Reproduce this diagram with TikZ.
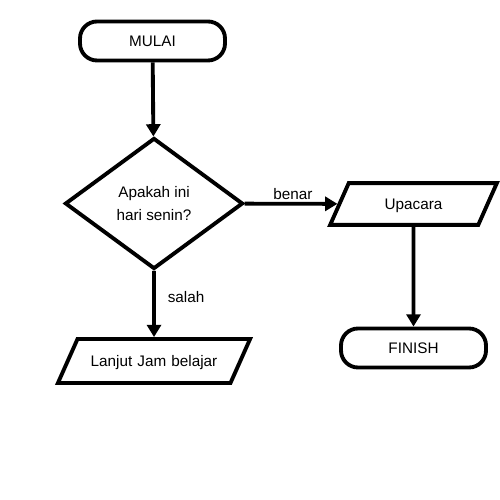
\documentclass[tikz,border=0pt]{standalone}
\usepackage{fontspec}
\setmainfont{Liberation Sans}
\usetikzlibrary{shapes.geometric, arrows.meta}

\begin{document}
\begin{tikzpicture}[->, >={Triangle[length=7pt,width=8pt]}, line width=2.2pt, auto, font=\fontsize{8.7}{13}\selectfont]
		\tikzstyle{terminal}=[draw, rectangle, rounded corners=0.34cm, minimum width=2.9cm, minimum height=0.78cm, inner sep=0pt]
		\tikzstyle{decision}=[draw, diamond, minimum width=3.56cm, minimum height=2.62cm, inner sep=0pt, align=center]
		\tikzstyle{io}=[draw, trapezium, trapezium left angle=66, trapezium right angle=114, inner sep=0pt, align=center]

		\useasboundingbox (0,0) rectangle (10,10);

		\node[terminal] at (3.05, 9.18) (M) {MULAI};
		\node[decision] at (3.08, 5.93) (Q) {Apakah ini\\hari senin?};
		\node[io, text width=2.59cm, text height=14.9pt, text depth=8.9pt] at (8.27, 5.92) (U) {Upacara};
		\node[terminal] at (8.27, 3.04) (F) {FINISH};
		\node[io, text width=3.06cm, text height=15.5pt, text depth=9.5pt] at (3.08, 2.78) (L) {Lanjut Jam belajar};

		\path
		(M) edge (Q)
		(Q) edge node[above, inner sep=1.5pt, pos=0.52]{benar} (U)
		(Q) edge node[right=0.12cm, pos=0.4]{salah} (L)
		(U) edge (F);
	\end{tikzpicture}
\end{document}
